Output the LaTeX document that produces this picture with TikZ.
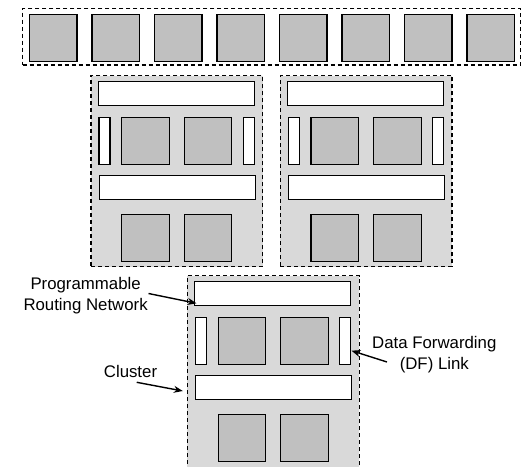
\documentclass[tikz,border=0pt]{standalone}
\usepackage{fontspec}
\setmainfont{Liberation Sans}
\usetikzlibrary{arrows.meta,calc}

\definecolor{pegray}{HTML}{C0C0C0}
\definecolor{clustergray}{HTML}{D9D9D9}

\tikzset{
  blk/.style={draw, line width=1.2pt, inner sep=0pt, outer sep=0pt, anchor=north west},
  pe/.style={blk, fill=pegray, minimum width=47.5pt, minimum height=47pt},
  hbar/.style={blk, fill=white, minimum width=156pt, minimum height=23.6pt},
  vbar/.style={blk, fill=white, minimum width=11pt, minimum height=46.6pt},
  dashbox/.style={blk, dash pattern=on 4pt off 3pt},
  clusterbox/.style={dashbox, fill=clustergray, minimum width=171.7pt, minimum height=191pt},
  lbl/.style={inner sep=0pt, align=center, font=\fontsize{16.8}{21}\selectfont},
  pointer/.style={line width=1.4pt, -{Stealth[length=9pt,width=7pt]}},
}

% One cluster: routing bars, DF links and four processing elements.
% [#1] = extra keys for the outline, #2 = name prefix, #3/#4 = top-left corner
\newcommand\fabriccluster[4][]{%
  \node[clusterbox,#1] (#2box) at (#3,#4) {};
  \node[hbar] (#2top) at (#3+7.3,#4+6) {};
  \node[vbar] (#2dfl) at (#3+8,#4+42) {};
  \node[pe]   (#2pea) at (#3+30.7,#4+41.6) {};
  \node[pe]   (#2peb) at (#3+93.3,#4+41.6) {};
  \node[vbar] (#2dfr) at (#3+152.3,#4+42) {};
  \node[hbar] (#2mid) at (#3+8.3,#4+100) {};
  \node[pe]   (#2pec) at (#3+30.7,#4+138.6) {};
  \node[pe]   (#2ped) at (#3+93.3,#4+138.6) {};
}

\begin{document}
\begin{tikzpicture}[x=1pt, y=-1pt]
  \useasboundingbox (0,0) rectangle (522,466);
  \clip (0,0) rectangle (522,466);

  % row of eight processing elements
  \node[dashbox, minimum width=498pt, minimum height=56.7pt] (row) at (22.7,8.3) {};
  \foreach \i in {0,...,7} {
    \node[pe] (rowpe\i) at (29.5+62.5*\i,14.2) {};
  }

  % clusters (the lower one runs past the bottom edge)
  \fabriccluster{ca}{91}{75.7}
  \fabriccluster{cb}{280.3}{75.7}
  \fabriccluster[minimum height=200pt]{cc}{187.4}{275.7}

  % labels
  \node[lbl] (prn) at (85.6,296) {Programmable\\Routing Network};
  \node[lbl] (clu) at (130.5,371) {Cluster};
  \node[lbl] (dfl) at (434.3,355) {Data Forwarding\\(DF) Link};

  \coordinate (prnfrom) at (148.5,293.5);
  \coordinate (prnto) at (196.5,303.3);
  \coordinate (clufrom) at (136.7,382.3);
  \coordinate (cluto) at (182.8,391);
  \coordinate (dflfrom) at (387,362);
  \coordinate (dflto) at (351.5,350.7);

  \draw[pointer] (prnfrom) -- (prnto);
  \draw[pointer] (clufrom) -- (cluto);
  \draw[pointer] (dflfrom) -- (dflto);
\end{tikzpicture}
\end{document}
